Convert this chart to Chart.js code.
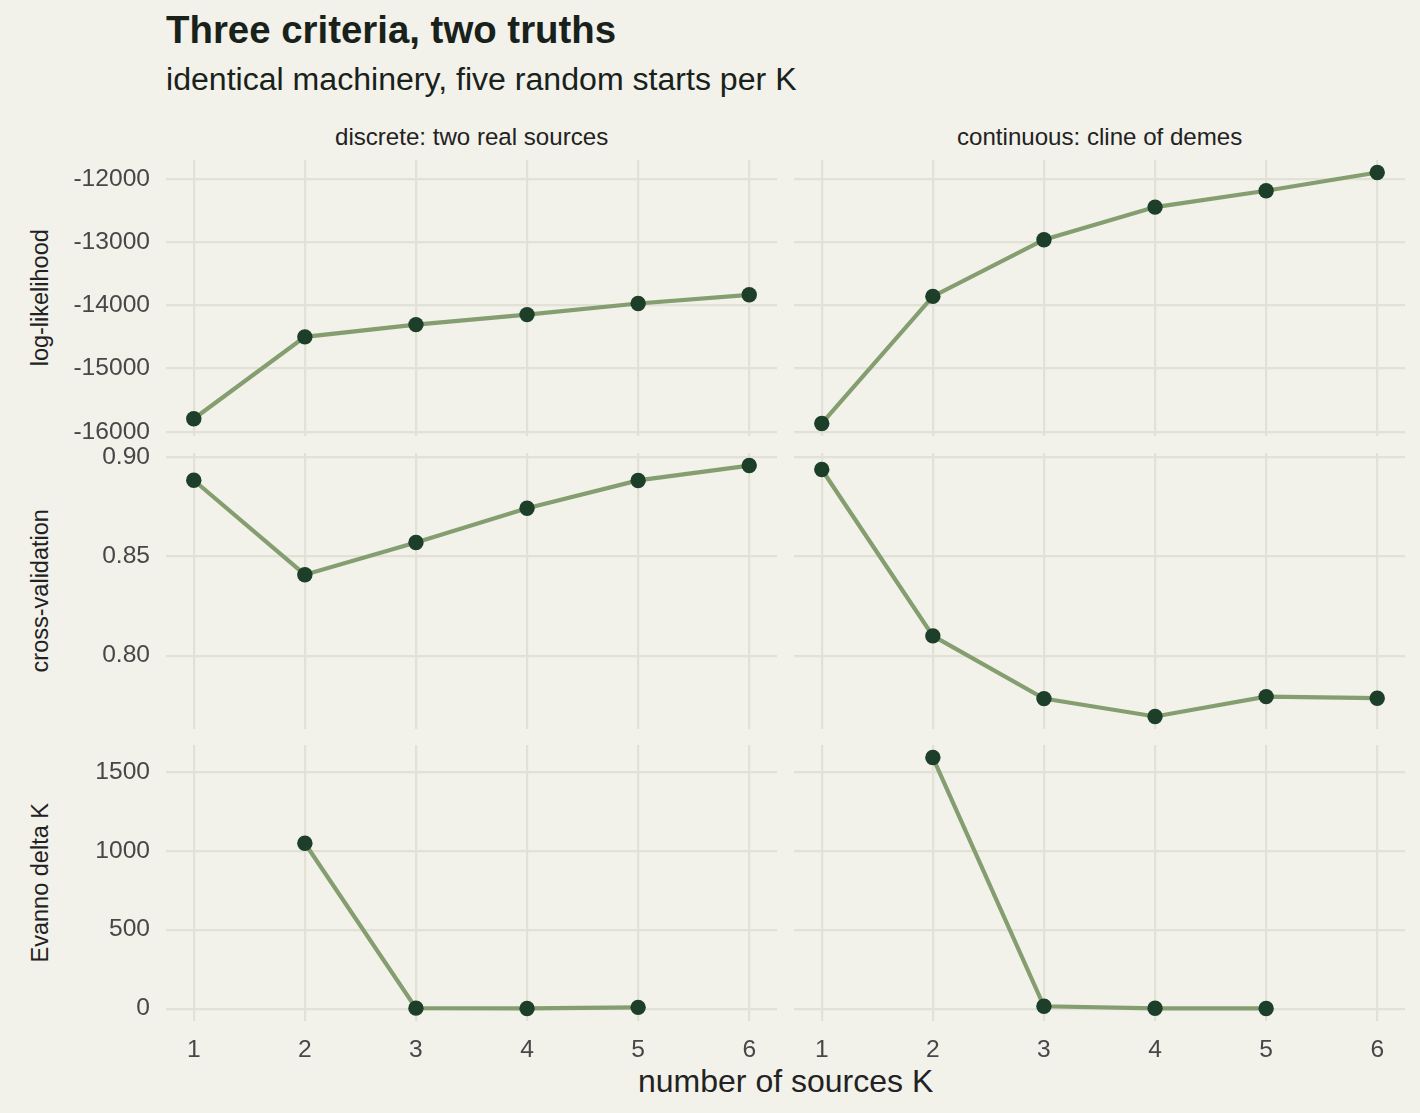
<!DOCTYPE html>
<html><head><meta charset="utf-8">
<script src="https://cdn.jsdelivr.net/npm/chart.js@4/dist/chart.umd.min.js"></script>
<style>
html,body{margin:0;padding:0;background:#F2F1EA;}
#root{position:relative;width:1420px;height:1113px;overflow:hidden;font-family:"Liberation Sans",Arial,sans-serif;background:#F2F1EA;}
.t{position:absolute;white-space:nowrap;line-height:1;}
canvas{position:absolute;}
</style></head>
<body><div id="root">
<div class="t" id="title" style="left:166px;top:10.5px;font-size:38.4px;font-weight:bold;color:#18221B;">Three criteria, two truths</div>
<div class="t" id="subtitle" style="left:166px;top:62.8px;font-size:32.1px;color:#18221B;">identical machinery, five random starts per K</div>
</div>
<script>
// ---- data ----
const K = [1, 2, 3, 4, 5, 6];
const facetLabels = ["discrete: two real sources", "continuous: cline of demes"];
const rowLabels = ["log-likelihood", "cross-validation", "Evanno delta K"];
const xTitle = "number of sources K";

const llDiscrete   = [-15795, -14498, -14304, -14145, -13970, -13832];
const llContinuous = [-15869, -13856, -12960, -12443, -12185, -11896];
const cvDiscrete   = [0.8884, 0.8408, 0.8570, 0.8743, 0.8883, 0.8958];
const cvContinuous = [0.8938, 0.8100, 0.7784, 0.7694, 0.7794, 0.7786];
const evDiscrete   = [null, 1048, 3, 1, 8, null];
const evContinuous = [null, 1591, 15, 2, 1, null];

const llTicks = [-16000, -15000, -14000, -13000, -12000];
const cvTicks = [0.80, 0.85, 0.90];
const evTicks = [0, 500, 1000, 1500];

// ---- style ----
const GRID = '#E2E1D6', LINE = '#849E70', POINT = '#1D3F2A', TICKC = '#474747', TEXTC = '#222222';
const FONT = '"Liberation Sans", Arial, sans-serif';
const TICKF = 24.6;
const colLeft = [166, 794], panelW = 611, rowTop = [160, 453, 745], panelH = 276;

const root = document.getElementById('root');
function addText(txt, css) {
  const d = document.createElement('div');
  d.className = 't'; d.textContent = txt; d.style.cssText = css; root.appendChild(d); return d;
}
// strips
facetLabels.forEach((lab, c) => {
  const F = 24.1, cx = colLeft[c] + panelW / 2;
  const d = addText(lab, `top:${145 - 0.8465 * F}px;font-size:${F}px;color:${TEXTC};`);
  d.style.left = (cx - d.offsetWidth / 2) + 'px';
});
// row titles
rowLabels.forEach((lab, r) => {
  const F = 23.5, cy = rowTop[r] + panelH / 2, cx = 40.8;
  const d = addText(lab, `font-size:${F}px;height:${F}px;color:${TEXTC};`);
  const w = d.offsetWidth;
  d.style.left = (cx - w / 2) + 'px';
  d.style.top = (cy - F / 2) + 'px';
  d.style.transform = 'rotate(-90deg)';
  d.style.transformOrigin = '50% 50%';
});
// x title
{
  const F = 32;
  const d = addText(xTitle, `top:${1091.7 - 0.8465 * F}px;font-size:${F}px;color:${TEXTC};`);
  d.style.left = (785.5 - d.offsetWidth / 2) + 'px';
}

function rangeOf(a, b) {
  const v = a.concat(b).filter(x => x !== null);
  const mn = Math.min(...v), mx = Math.max(...v), e = (mx - mn) * 0.05;
  return [mn - e, mx + e];
}

const rows = [
  { l: llDiscrete, r: llContinuous, ticks: llTicks, fmt: v => String(v) },
  { l: cvDiscrete, r: cvContinuous, ticks: cvTicks, fmt: v => v.toFixed(2) },
  { l: evDiscrete, r: evContinuous, ticks: evTicks, fmt: v => String(v) }
];

function makePanel(r, c, series, yMin, yMax, yTicks, fmt) {
  const showY = c === 0, showX = r === 2;
  const axW = c === 0 ? colLeft[0] : 0;
  const padT = 20, padR = 10, padB = showX ? 0 : 20, axH = showX ? 50 : 0;
  const w = axW + panelW + padR, h = padT + panelH + padB + axH;
  const cv = document.createElement('canvas');
  cv.width = w; cv.height = h;
  cv.style.width = w + 'px'; cv.style.height = h + 'px';
  cv.style.left = (c === 0 ? 0 : colLeft[1]) + 'px';
  cv.style.top = (rowTop[r] - padT) + 'px';
  root.appendChild(cv);
  new Chart(cv, {
    type: 'line',
    data: { datasets: [{
      data: K.map((k, i) => ({ x: k, y: series[i] })),
      borderColor: LINE, borderWidth: 4.2, tension: 0, spanGaps: false,
      pointRadius: 7.7, pointBackgroundColor: POINT, pointBorderWidth: 0,
      pointHoverRadius: 7.7, clip: false
    }] },
    options: {
      responsive: false, animation: false, devicePixelRatio: 1,
      layout: { autoPadding: false, padding: { top: padT, right: padR, bottom: padB, left: 0 } },
      plugins: { legend: { display: false }, tooltip: { enabled: false } },
      events: [],
      scales: {
        x: {
          type: 'linear', min: 0.75, max: 6.25,
          afterBuildTicks: s => { s.ticks = K.map(v => ({ value: v })); },
          afterFit: s => { s.height = axH; s.paddingLeft = 0; s.paddingRight = 0; },
          grid: { color: GRID, lineWidth: 2.2, drawTicks: false },
          border: { display: false },
          ticks: { display: showX, padding: 14, color: TICKC, maxRotation: 0, autoSkip: false,
                   font: { family: FONT, size: TICKF }, callback: v => String(v) }
        },
        y: {
          type: 'linear', min: yMin, max: yMax,
          afterBuildTicks: s => { s.ticks = yTicks.map(v => ({ value: v })); },
          afterFit: s => { s.width = axW; s.paddingTop = 0; s.paddingBottom = 0; },
          grid: { color: GRID, lineWidth: 2.2, drawTicks: false },
          border: { display: false },
          ticks: { display: showY, padding: 16, color: TICKC, autoSkip: false,
                   font: { family: FONT, size: TICKF }, callback: v => fmt(v) }
        }
      }
    }
  });
}

rows.forEach((row, r) => {
  const [mn, mx] = rangeOf(row.l, row.r);
  makePanel(r, 0, row.l, mn, mx, row.ticks, row.fmt);
  makePanel(r, 1, row.r, mn, mx, row.ticks, row.fmt);
});
</script>
</body></html>
